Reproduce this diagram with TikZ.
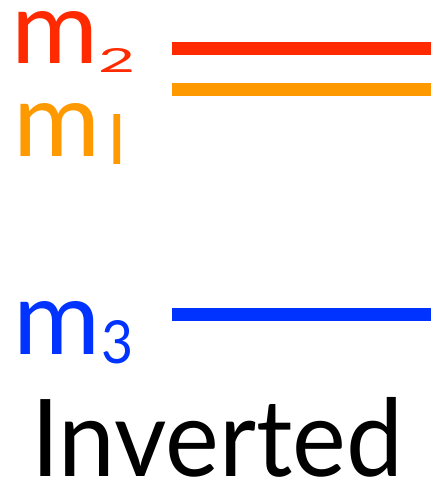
\documentclass[tikz,border=0pt]{standalone}
\usepackage{fontspec}
\setmainfont{Lato}
\definecolor{levelred}{RGB}{255,42,0}
\definecolor{levelorange}{RGB}{255,153,0}
\definecolor{levelblue}{RGB}{0,51,255}
\begin{document}
\begin{tikzpicture}[x=1pt,y=-1pt,
  level/.style={line width=13pt},
  glyph/.style={anchor=base west, inner sep=0pt, outer sep=0pt}]
\useasboundingbox (0,0) rectangle (436,482);
% energy levels
\coordinate (r0) at (172,48.5);  \coordinate (r1) at (431,48.5);
\coordinate (o0) at (172,89.5);  \coordinate (o1) at (431,89.5);
\coordinate (b0) at (172,314);   \coordinate (b1) at (431,314);
\draw[level, levelred]    (r0) -- (r1);
\draw[level, levelorange] (o0) -- (o1);
\draw[level, levelblue]   (b0) -- (b1);
% mass labels
\node[glyph, text=levelred]    (m2) at (11,63.5) {\resizebox{87pt}{52pt}{m}};
\node[glyph, text=levelred]    (s2) at (98,72)   {\resizebox{37pt}{24pt}{2}};
\node[glyph, text=levelorange] (m1) at (13,156)  {\resizebox{87pt}{53pt}{m}};
\node[glyph, text=levelorange] (s1) at (107,164) {\resizebox{!}{50pt}{I}};
\node[glyph, text=levelblue]   (m3) at (13,354)  {\resizebox{87pt}{53pt}{m}};
\node[glyph, text=levelblue]   (s3) at (101,363) {\resizebox{32pt}{43pt}{3}};
% ordering caption
\node[glyph] (cap) at (31,476) {\resizebox{372pt}{79pt}{Inverted}};
\end{tikzpicture}
\end{document}
